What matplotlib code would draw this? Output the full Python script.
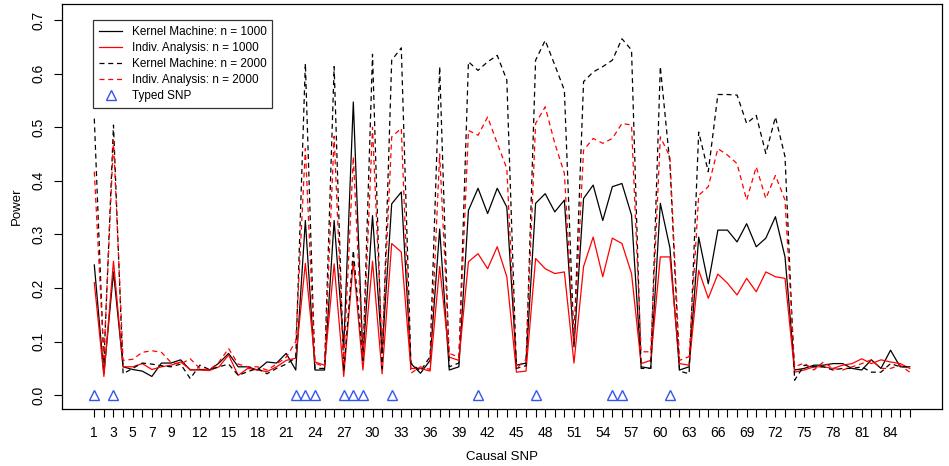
import matplotlib
matplotlib.use('Agg')
from matplotlib import pyplot as plt

plt.rcParams['font.family'] = ['Liberation Sans', 'DejaVu Sans']

# power values, SNP 1..86
km_1000 = [0.243, 0.04, 0.23, 0.053, 0.048, 0.045, 0.035, 0.06, 0.06, 0.066,
           0.047, 0.048, 0.047, 0.06, 0.078, 0.053, 0.053, 0.047, 0.062, 0.06,
           0.078, 0.047, 0.326, 0.047, 0.047, 0.326, 0.09, 0.547, 0.07, 0.335,
           0.08, 0.357, 0.379, 0.059, 0.041, 0.065, 0.31, 0.047, 0.053, 0.345,
           0.386, 0.339, 0.386, 0.351, 0.056, 0.06, 0.358, 0.376, 0.342, 0.364,
           0.09, 0.367, 0.392, 0.326, 0.389, 0.395, 0.336, 0.053, 0.05, 0.358,
           0.275, 0.047, 0.053, 0.295, 0.208, 0.308, 0.308, 0.286, 0.32, 0.277,
           0.293, 0.333, 0.258, 0.047, 0.05, 0.056, 0.056, 0.059, 0.059, 0.05,
           0.047, 0.066, 0.05, 0.084, 0.053, 0.053]
ia_1000 = [0.21, 0.035, 0.25, 0.053, 0.053, 0.059, 0.048, 0.053, 0.056, 0.062,
           0.048, 0.047, 0.046, 0.053, 0.075, 0.037, 0.05, 0.047, 0.044, 0.053,
           0.065, 0.069, 0.246, 0.062, 0.056, 0.245, 0.035, 0.25, 0.047, 0.25,
           0.04, 0.283, 0.267, 0.05, 0.05, 0.045, 0.24, 0.071, 0.065, 0.249,
           0.264, 0.236, 0.277, 0.221, 0.043, 0.045, 0.255, 0.236, 0.227, 0.23,
           0.06, 0.24, 0.295, 0.221, 0.293, 0.283, 0.227, 0.059, 0.065, 0.258,
           0.258, 0.059, 0.056, 0.233, 0.181, 0.226, 0.209, 0.187, 0.218, 0.193,
           0.23, 0.221, 0.218, 0.043, 0.047, 0.053, 0.053, 0.05, 0.056, 0.059,
           0.068, 0.059, 0.066, 0.062, 0.059, 0.05]
km_2000 = [0.516, 0.06, 0.504, 0.04, 0.05, 0.06, 0.058, 0.055, 0.053, 0.058,
           0.031, 0.056, 0.048, 0.053, 0.058, 0.037, 0.044, 0.05, 0.04, 0.05,
           0.058, 0.07, 0.619, 0.05, 0.05, 0.613, 0.045, 0.27, 0.065, 0.636,
           0.05, 0.625, 0.648, 0.06, 0.045, 0.072, 0.613, 0.053, 0.06, 0.622,
           0.606, 0.622, 0.634, 0.588, 0.05, 0.055, 0.625, 0.662, 0.616, 0.569,
           0.1, 0.585, 0.603, 0.613, 0.625, 0.665, 0.644, 0.05, 0.05, 0.613,
           0.432, 0.045, 0.04, 0.491, 0.417, 0.561, 0.561, 0.56, 0.507, 0.522,
           0.451, 0.519, 0.445, 0.028, 0.056, 0.053, 0.053, 0.047, 0.05, 0.05,
           0.053, 0.043, 0.043, 0.059, 0.053, 0.053]
ia_2000 = [0.417, 0.07, 0.476, 0.065, 0.067, 0.08, 0.083, 0.08, 0.061, 0.058,
           0.068, 0.05, 0.047, 0.062, 0.087, 0.058, 0.053, 0.053, 0.047, 0.058,
           0.071, 0.1, 0.46, 0.06, 0.053, 0.483, 0.06, 0.445, 0.07, 0.5,
           0.09, 0.482, 0.498, 0.041, 0.053, 0.048, 0.45, 0.078, 0.071, 0.494,
           0.485, 0.519, 0.47, 0.423, 0.05, 0.067, 0.507, 0.538, 0.47, 0.414,
           0.1, 0.457, 0.479, 0.47, 0.479, 0.507, 0.504, 0.081, 0.081, 0.482,
           0.445, 0.065, 0.072, 0.373, 0.389, 0.46, 0.448, 0.432, 0.364, 0.426,
           0.367, 0.41, 0.364, 0.053, 0.06, 0.047, 0.062, 0.05, 0.047, 0.053,
           0.059, 0.066, 0.05, 0.05, 0.056, 0.043]
typed_snps = [1, 3, 22, 23, 24, 27, 28, 29, 32, 41, 47, 55, 56, 61]
snps = list(range(1, len(km_1000) + 1))
x_labels = [1, 3, 5, 7, 9] + list(range(12, 85, 3))

fig = plt.figure(figsize=(9.49, 4.66), dpi=100)
ax = fig.add_axes([0.065, 0.122, 0.928, 0.869])

dash = (0, (4, 3))
ax.plot(snps, km_1000, color='black', lw=0.9, label='Kernel Machine: n = 1000')
ax.plot(snps, ia_1000, color='red', lw=0.9, label='Indiv. Analysis: n = 1000')
ax.plot(snps, km_2000, color='black', lw=0.9, ls=dash, label='Kernel Machine: n = 2000')
ax.plot(snps, ia_2000, color='red', lw=0.9, ls=dash, label='Indiv. Analysis: n = 2000')
ax.plot(typed_snps, [0] * len(typed_snps), ls='none', marker='^', ms=7,
        mfc='none', mec='#3355ee', mew=1.0, label='Typed SNP')

ax.set_xlim(-2.4, 89.4)
ax.set_ylim(-0.026, 0.7295)
ax.set_xticks(snps)
ax.set_xticklabels([str(s) if s in x_labels else '' for s in snps])
ax.set_yticks([0.0, 0.1, 0.2, 0.3, 0.4, 0.5, 0.6, 0.7])
ax.set_yticklabels(['0.0', '0.1', '0.2', '0.3', '0.4', '0.5', '0.6', '0.7'],
                   rotation=90, va='center')
ax.tick_params(axis='both', length=6, width=0.8, labelsize=10, pad=6)
for sp in ax.spines.values():
    sp.set_linewidth(0.9)

ax.set_xlabel('Causal SNP', fontsize=9.5, labelpad=8)
ax.set_ylabel('Power', fontsize=9.5, labelpad=6)

leg = ax.legend(loc='upper left', bbox_to_anchor=(0.036, 0.96), borderaxespad=0,
                fontsize=8.5, handlelength=2.0, handletextpad=0.8, frameon=True,
                fancybox=False, labelspacing=0.35, borderpad=0.45)
leg.get_frame().set_edgecolor('black')
leg.get_frame().set_linewidth(0.9)

fig.savefig('out.png', dpi=100)
